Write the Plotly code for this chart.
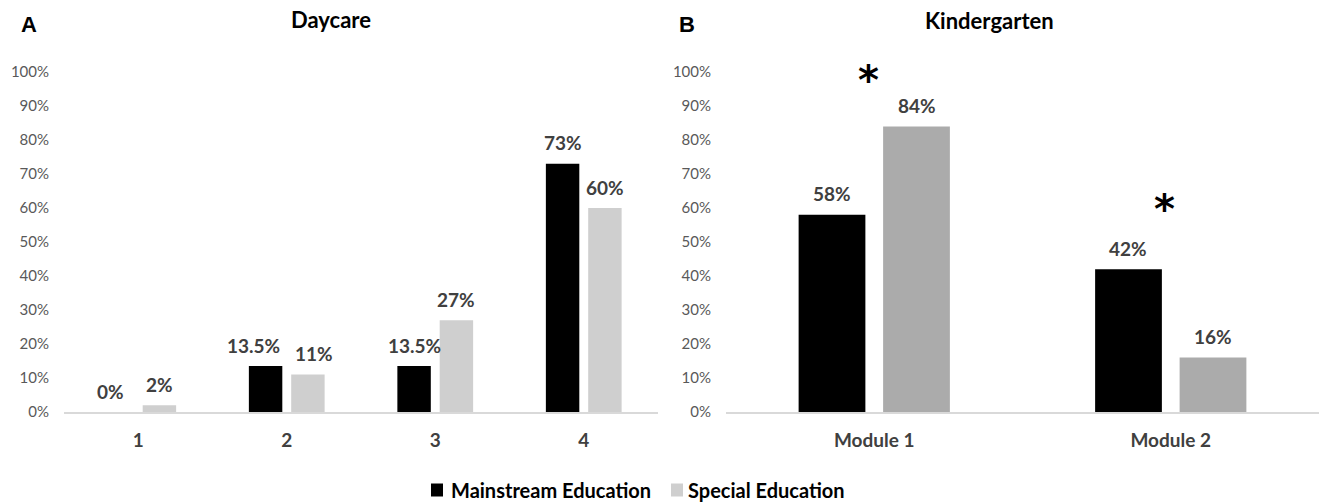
import plotly.graph_objects as go

# ---- data ----
daycare_categories = ["1", "2", "3", "4"]
daycare_mainstream = [0.0, 0.135, 0.135, 0.73]
daycare_special = [0.02, 0.11, 0.27, 0.60]

kinder_categories = ["Module 1", "Module 2"]
kinder_mainstream = [0.58, 0.42]
kinder_special = [0.84, 0.16]

series_names = ["Mainstream Education", "Special Education"]
significant_modules = [0, 1]          # indices of modules marked with *

y_ticks = [0, 0.1, 0.2, 0.3, 0.4, 0.5, 0.6, 0.7, 0.8, 0.9, 1.0]

# ---- styling ----
W, H = 1319, 502
FONT = "Lato"
BLACK = "#000000"
GRAY_LIGHT = "#cfcfcf"
GRAY_DARK = "#ababab"
LABEL_COLOR = "#404040"
TICK_COLOR = "#595959"
BARGAP = 0.43
BARGROUPGAP = 0.21

left_dom = [64 / W, 658 / W]
right_dom = [726 / W, 1.0]
y_dom = [(H - 412) / H, (H - 72) / H]

fig = go.Figure()

fig.add_trace(go.Bar(x=daycare_categories, y=daycare_mainstream, name=series_names[0],
                     marker=dict(color=BLACK, line=dict(width=0)), xaxis="x", yaxis="y"))
fig.add_trace(go.Bar(x=daycare_categories, y=daycare_special, name=series_names[1],
                     marker=dict(color=GRAY_LIGHT, line=dict(width=0)), xaxis="x", yaxis="y"))
fig.add_trace(go.Bar(x=kinder_categories, y=kinder_mainstream, name=series_names[0],
                     marker=dict(color=BLACK, line=dict(width=0)), xaxis="x2", yaxis="y2"))
fig.add_trace(go.Bar(x=kinder_categories, y=kinder_special, name=series_names[1],
                     marker=dict(color=GRAY_DARK, line=dict(width=0)), xaxis="x2", yaxis="y2"))


def fmt(v):
    p = v * 100
    return f"{p:.1f}%" if abs(p - round(p)) > 1e-9 else f"{int(round(p))}%"


annotations = []
shapes = []


def value_labels(cats, mains, specs, xref, yref, dom, nudges):
    cat_px = (dom[1] - dom[0]) * W / len(cats)
    slot = cat_px * (1 - BARGAP) / 2
    for i in range(len(cats)):
        for j, (vals, off) in enumerate(((mains, -slot / 2), (specs, slot / 2))):
            annotations.append(dict(
                x=i, y=vals[i], xref=xref, yref=yref, text=f"<b>{fmt(vals[i])}</b>",
                showarrow=False, xanchor="center", yanchor="middle",
                xshift=off + nudges.get((i, j), 0), yshift=21,
                font=dict(family=FONT, size=19, color=LABEL_COLOR)))


value_labels(daycare_categories, daycare_mainstream, daycare_special, "x", "y", left_dom,
             {(0, 0): -7, (1, 0): -12, (1, 1): 6})
value_labels(kinder_categories, kinder_mainstream, kinder_special, "x2", "y2", right_dom, {})

# significance markers
for idx, yv in zip(significant_modules, [1.0, 0.62]):
    annotations.append(dict(x=idx, y=yv, xref="x2", yref="y2", text="<b>*</b>",
                            showarrow=False, xanchor="center", yanchor="middle", xshift=-6,
                            yshift=-8, font=dict(family="DejaVu Sans", size=40, color=BLACK)))

# panel titles and letters
annotations += [
    dict(x=331 / W, y=1 - 20 / H, xref="paper", yref="paper", text="<b>Daycare</b>",
         showarrow=False, xanchor="center", yanchor="middle",
         font=dict(family=FONT, size=22, color=BLACK)),
    dict(x=990 / W, y=1 - 21 / H, xref="paper", yref="paper", text="<b>Kindergarten</b>",
         showarrow=False, xanchor="center", yanchor="middle",
         font=dict(family=FONT, size=22, color=BLACK)),
    dict(x=29 / W, y=1 - 25 / H, xref="paper", yref="paper", text="<b>A</b>",
         showarrow=False, xanchor="center", yanchor="middle",
         font=dict(family="Liberation Sans", size=22, color=BLACK)),
    dict(x=687 / W, y=1 - 25 / H, xref="paper", yref="paper", text="<b>B</b>",
         showarrow=False, xanchor="center", yanchor="middle",
         font=dict(family="Liberation Sans", size=22, color=BLACK)),
]

# legend: swatch + bold label for each series
legend_y = 1 - 490 / H
for name, color, sx, tx in zip(series_names, [BLACK, GRAY_LIGHT], [431, 671], [449, 686]):
    shapes.append(dict(type="rect", xref="paper", yref="paper",
                       x0=sx / W, x1=(sx + 12) / W,
                       y0=legend_y - 6.5 / H, y1=legend_y + 6.5 / H,
                       fillcolor=color, line=dict(width=0)))
    annotations.append(dict(x=tx / W, y=legend_y, xref="paper", yref="paper",
                            text=f"<b>{name}</b>", showarrow=False, xanchor="left",
                            yanchor="middle", font=dict(family=FONT, size=20, color=BLACK)))

xaxis_style = dict(type="category", showline=True, linecolor="#d9d9d9", linewidth=1.5,
                   showgrid=False, zeroline=False, ticks="",
                   tickfont=dict(family=FONT, size=19, color=LABEL_COLOR),
                   ticklabelstandoff=10, tickprefix="<b>", ticksuffix="</b>")
yaxis_style = dict(range=[0, 1.0], tickvals=y_ticks, tickformat=".0%", showgrid=False,
                   zeroline=False, showline=False, ticks="",
                   tickfont=dict(family=FONT, size=15, color=TICK_COLOR), ticklabelstandoff=14)

fig.update_layout(
    width=W, height=H,
    margin=dict(l=0, r=0, t=0, b=0, autoexpand=False),
    paper_bgcolor="white", plot_bgcolor="white",
    barmode="group", bargap=BARGAP, bargroupgap=BARGROUPGAP,
    xaxis=dict(domain=left_dom, anchor="y", range=[-0.5, len(daycare_categories) - 0.5],
               **xaxis_style),
    yaxis=dict(domain=y_dom, anchor="x", **yaxis_style),
    xaxis2=dict(domain=right_dom, anchor="y2", range=[-0.5, len(kinder_categories) - 0.5],
                **xaxis_style),
    yaxis2=dict(domain=y_dom, anchor="x2", **yaxis_style),
    annotations=annotations,
    shapes=shapes,
    showlegend=False,
)

fig.write_html("out.html")
